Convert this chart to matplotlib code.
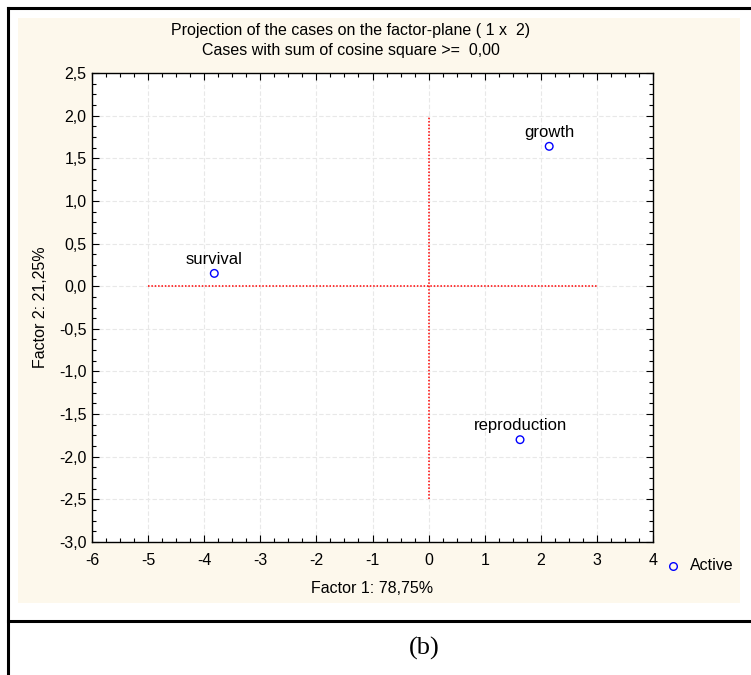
import matplotlib
matplotlib.use("Agg")
import matplotlib.pyplot as plt
from matplotlib.ticker import MultipleLocator, FuncFormatter
from matplotlib.lines import Line2D

names = ["growth", "survival", "reproduction"]
factor1 = [2.15, -3.82, 1.63]
factor2 = [1.64, 0.15, -1.80]

xticks = [-6, -5, -4, -3, -2, -1, 0, 1, 2, 3, 4]
yticks = [2.5, 2.0, 1.5, 1.0, 0.5, 0.0, -0.5, -1.0, -1.5, -2.0, -2.5, -3.0]

fam = ['Liberation Sans', 'DejaVu Sans']
plt.rcParams['font.family'] = fam

W, H = 751, 675
fig = plt.figure(figsize=(W / 100, H / 100), dpi=100)
fig.patch.set_facecolor('white')

def fx(px):
    return px / W

def fy(py):
    return 1 - py / H

# cream panel
panel = plt.Rectangle((fx(18), fy(603)), fx(740) - fx(18), fy(18) - fy(603),
                      transform=fig.transFigure, facecolor='#fdf8ec', edgecolor='none', zorder=0)
fig.add_artist(panel)

# outer border lines
fig.add_artist(Line2D([fx(8), fx(8)], [fy(8), fy(675)], transform=fig.transFigure, color='black', lw=2.2))
fig.add_artist(Line2D([fx(8), 1], [fy(8), fy(8)], transform=fig.transFigure, color='black', lw=2.2))
fig.add_artist(Line2D([fx(8), 1], [fy(621), fy(621)], transform=fig.transFigure, color='black', lw=2.2))

ax = fig.add_axes([fx(92), fy(542), fx(653) - fx(92), fy(73) - fy(542)])
ax.set_facecolor('white')
ax.set_xlim(-6, 4)
ax.set_ylim(-3.0, 2.5)

ax.set_xticks(xticks)
ax.set_yticks(yticks)
ax.xaxis.set_minor_locator(MultipleLocator(0.25))
ax.yaxis.set_minor_locator(MultipleLocator(0.125))
ax.xaxis.set_major_formatter(FuncFormatter(lambda v, p: f"{v:.0f}"))
ax.yaxis.set_major_formatter(FuncFormatter(lambda v, p: f"{v:.1f}".replace('.', ',')))
ax.tick_params(which='both', direction='in', top=True, right=True, labelsize=11.5, colors='black')
ax.tick_params(which='major', length=5, width=0.8)
ax.tick_params(which='minor', length=3, width=0.8)
ax.tick_params(axis='x', pad=8)
ax.tick_params(axis='y', pad=4)
for s in ax.spines.values():
    s.set_linewidth(1.0)
    s.set_color('black')

ax.grid(True, which='major', color='#e8e8e8', linestyle=(0, (4, 2)), linewidth=0.8)
ax.set_axisbelow(True)

# reference lines
ax.plot([-5, 3], [0, 0], color='#ff0000', linestyle=(0, (1, 1.2)), linewidth=1.1, zorder=2)
ax.plot([0, 0], [-2.5, 2.0], color='#ff0000', linestyle=(0, (1, 1.2)), linewidth=1.1, zorder=2)

ax.scatter(factor1, factor2, s=30, facecolors='none', edgecolors='blue', linewidths=1.0, zorder=3)
for n, x, y in zip(names, factor1, factor2):
    ax.annotate(n, (x, y), xytext=(0, 4.5), textcoords='offset points', ha='center', va='bottom',
                fontsize=12, color='black')

ax.set_xlabel("Factor 1: 78,75%", fontsize=11.5, labelpad=9)
ax.set_ylabel("Factor 2: 21,25%", fontsize=11.5, labelpad=8)

fig.text(fx(351), fy(30), "Projection of the cases on the factor-plane ( 1 x  2)", ha='center', va='center', fontsize=11.5)
fig.text(fx(351), fy(51), "Cases with sum of cosine square >=  0,00", ha='center', va='center', fontsize=11.5)

# legend
fig.add_artist(Line2D([fx(673)], [fy(566)], transform=fig.transFigure, marker='o', markersize=5.5,
                      markerfacecolor='none', markeredgecolor='blue', markeredgewidth=1.0, linestyle='none'))
fig.text(fx(690), fy(566), "Active", ha='left', va='center', fontsize=11.5)

fig.text(fx(424), fy(648), "(b)", ha='center', va='center', fontsize=19,
         family=['Liberation Serif', 'DejaVu Serif'])

fig.savefig("out.png", dpi=100)
